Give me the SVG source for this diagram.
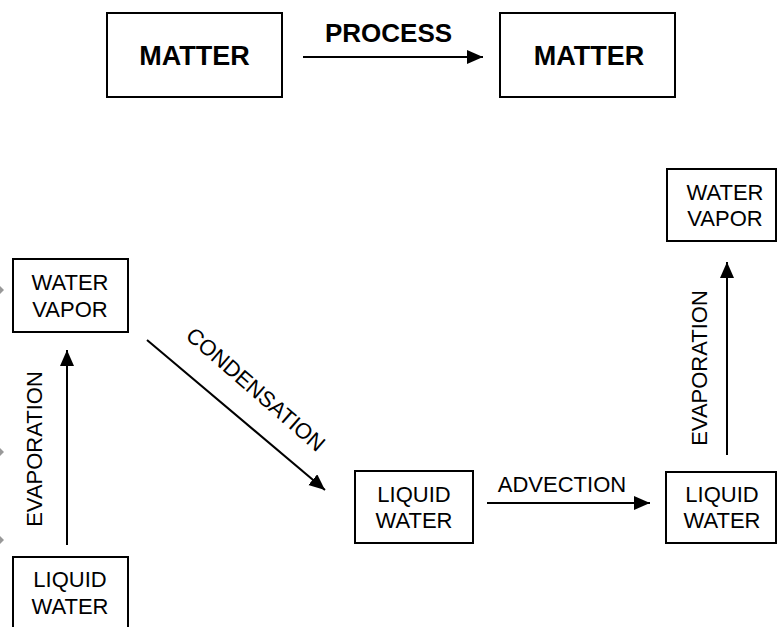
<svg xmlns="http://www.w3.org/2000/svg" width="777" height="627" viewBox="0 0 777 627">
<style>
.box{fill:#fff;stroke:#000;stroke-width:2}
.t{font-family:"Liberation Sans",Arial,sans-serif;font-size:22px;fill:#000;text-anchor:middle}
.b{font-family:"Liberation Sans",Arial,sans-serif;font-weight:bold;fill:#000;text-anchor:middle}
.lbl{font-family:"Liberation Sans",Arial,sans-serif;font-size:22px;fill:#000;text-anchor:middle}
.c{stroke:#000;stroke-width:2;fill:none;marker-end:url(#ah)}
</style>
<defs>
<marker id="ah" markerUnits="userSpaceOnUse" markerWidth="17" markerHeight="15" refX="16" refY="7" orient="auto">
<path d="M0,0 L16,7 L0,14 z" fill="#000"/>
</marker>
</defs>
<rect width="777" height="627" fill="#fff"/>
<g id="matter1"><rect class="box" x="107" y="13" width="175" height="84"/><text class="b" x="194.5" y="65" font-size="27">MATTER</text></g>
<g id="matter2"><rect class="box" x="500" y="13" width="175" height="84"/><text class="b" x="589" y="65" font-size="27">MATTER</text></g>
<g id="vapor-left"><rect class="box" x="13" y="259" width="115" height="73"/><text class="t" x="70" y="290">WATER</text><text class="t" x="70" y="317">VAPOR</text></g>
<g id="liquid-left"><rect class="box" x="13" y="557" width="115" height="80"/><text class="t" x="70" y="587">LIQUID</text><text class="t" x="70" y="614">WATER</text></g>
<g id="liquid-mid"><rect class="box" x="355" y="471" width="118" height="72"/><text class="t" x="414" y="502">LIQUID</text><text class="t" x="414" y="528">WATER</text></g>
<g id="liquid-right"><rect class="box" x="666" y="472" width="110" height="71"/><text class="t" x="722" y="502">LIQUID</text><text class="t" x="722" y="528">WATER</text></g>
<g id="vapor-right"><rect class="box" x="667" y="169" width="109" height="72"/><text class="t" x="725" y="200">WATER</text><text class="t" x="725" y="226">VAPOR</text></g>
<g id="connectors">
<line class="c" x1="303" y1="57" x2="483" y2="57"/>
<text class="b" x="388.5" y="42" font-size="26">PROCESS</text>
<line class="c" x1="67" y1="545" x2="67" y2="350"/>
<text class="lbl" transform="translate(42,449) rotate(-90)">EVAPORATION</text>
<line class="c" x1="147" y1="340" x2="325" y2="490"/>
<text class="lbl" transform="translate(256,389) rotate(41)" y="8">CONDENSATION</text>
<line class="c" x1="487" y1="503" x2="650" y2="503"/>
<text class="lbl" x="562" y="492">ADVECTION</text>
<line class="c" x1="727" y1="455" x2="727" y2="262"/>
<text class="lbl" transform="translate(707,368) rotate(-90)">EVAPORATION</text>
<path d="M0,286 L4,290 L0,294 z M0,448 L4,452 L0,456 z M0,536 L4,540 L0,544 z" fill="#999"/>
</g>
</svg>
